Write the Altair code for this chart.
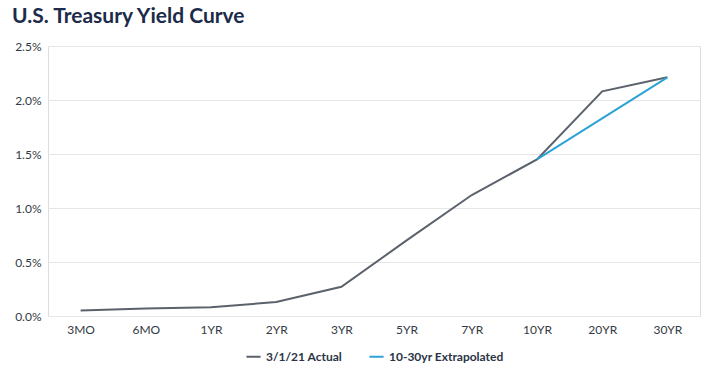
import altair as alt
import pandas as pd

maturities = ["3MO", "6MO", "1YR", "2YR", "3YR", "5YR", "7YR", "10YR", "20YR", "30YR"]
actual = [0.05, 0.07, 0.08, 0.13, 0.27, 0.70, 1.12, 1.45, 2.08, 2.21]
extrap_maturities = ["10YR", "30YR"]
extrap = [1.45, 2.21]
series_names = ["3/1/21 Actual", "10-30yr Extrapolated"]
series_colors = ["#5b626b", "#2ba3d6"]
y_ticks = [0, 0.5, 1.0, 1.5, 2.0, 2.5]

df = pd.DataFrame(
    [{"maturity": m, "yield": v, "series": series_names[0], "order": i} for i, (m, v) in enumerate(zip(maturities, actual))]
    + [{"maturity": m, "yield": v, "series": series_names[1], "order": maturities.index(m)} for m, v in zip(extrap_maturities, extrap)]
)

FONT = "Lato"

chart = (
    alt.Chart(df)
    .mark_line(strokeWidth=2)
    .encode(
        x=alt.X(
            "maturity:N",
            sort=maturities,
            scale=alt.Scale(type="point", padding=0.5, domain=maturities),
            axis=alt.Axis(
                title=None, labelAngle=0, ticks=False, domain=False, grid=False,
                labelFont=FONT, labelFontSize=12, labelColor="#333a44", labelPadding=8,
            ),
        ),
        y=alt.Y(
            "yield:Q",
            scale=alt.Scale(domain=[0, 2.5], nice=False, zero=True),
            axis=alt.Axis(
                title=None, values=y_ticks, ticks=False, domain=False,
                labelExpr="format(datum.value, '.1f') + '%'",
                labelFont=FONT, labelFontSize=12, labelColor="#333a44", labelPadding=7,
                gridColor="#e6e6e6", gridWidth=1,
            ),
        ),
        color=alt.Color(
            "series:N",
            scale=alt.Scale(domain=series_names, range=series_colors),
            legend=alt.Legend(
                title=None, orient="none", direction="horizontal",
                legendX=197, legendY=302,
                symbolType="stroke", symbolStrokeWidth=2, symbolSize=200,
                labelFont=FONT, labelFontSize=12, labelFontWeight="bold", labelColor="#2a3446",
                columnPadding=22,
            ),
        ),
        order=alt.Order("order:Q"),
        detail="series:N",
    )
    .properties(
        width=652,
        height=270,
        padding={"left": 48, "top": 46, "right": 20, "bottom": 60},
        autosize=alt.AutoSizeParams(type="none"),
        title=alt.TitleParams(
            "U.S. Treasury Yield Curve",
            anchor="start", frame="group", dx=-36, offset=13,
            font=FONT, fontSize=21, fontWeight="bold", color="#1c2b4a",
        ),
    )
    .configure_view(stroke=None)
    .configure(background="white")
)

chart.save("out.html", embed_options={"renderer": "svg", "actions": False})
